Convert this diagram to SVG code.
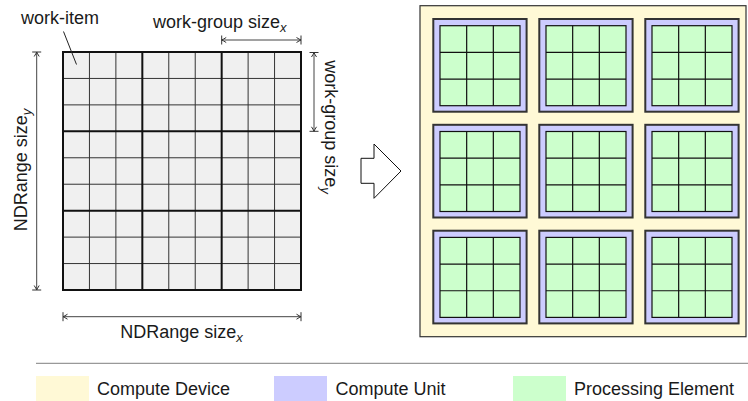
<svg xmlns="http://www.w3.org/2000/svg" xmlns:xlink="http://www.w3.org/1999/xlink" width="748" height="401" viewBox="0 0 748 401">
  <style>
    text { font-family: "Liberation Sans", Arial, sans-serif; font-size: 18px; fill: #1a1a1a; }
    .sub { font-size: 13px; font-style: italic; }
    .thin { stroke: #333; stroke-width: 1; fill: none; }
    .thick { stroke: #111; stroke-width: 2; fill: none; }
    .dim { stroke: #444; stroke-width: 1; fill: none; marker-start: url(#tip); marker-end: url(#tip); }
    .pe { fill: #ccffcc; stroke: #111; stroke-width: 1.2; }
    .cu { fill: #ccccff; stroke: #333; stroke-width: 2; }
  </style>
  <defs>
    <!-- dimension-line end: bar plus small arrowhead -->
    <marker id="tip" markerUnits="userSpaceOnUse" markerWidth="12" markerHeight="12" viewBox="-6 -6 12 12" refX="0" refY="0" orient="auto-start-reverse" overflow="visible">
      <path d="M0 -4.5 V4.5 M-4.5 -2.5 Q-1.5 -0.6 0 0 Q-1.5 0.6 -4.5 2.5" fill="none" stroke="#333" stroke-width="1"/>
    </marker>
    <!-- compute unit with 3x3 processing elements -->
    <g id="cuShape">
      <rect class="cu" x="0" y="0" width="93.3" height="92.7"/>
      <rect class="pe" x="6.7" y="6.7" width="80" height="80"/>
      <path d="M33.37 6.7 V86.7 M60.03 6.7 V86.7 M6.7 33.37 H86.7 M6.7 60.03 H86.7" stroke="#111" stroke-width="1.2" fill="none"/>
    </g>
  </defs>

  <rect width="748" height="401" fill="#ffffff"/>

  <!-- NDRange grid of work-items -->
  <g id="ndrange">
    <rect x="63" y="52" width="238" height="238" fill="#f0f0f0"/>
    <path class="thin" d="M89.44 52 V290 M115.89 52 V290 M168.78 52 V290 M195.22 52 V290 M248.11 52 V290 M274.56 52 V290
      M63 78.44 H301 M63 104.89 H301 M63 157.78 H301 M63 184.22 H301 M63 237.11 H301 M63 263.56 H301"/>
    <path class="thick" d="M142.33 52 V290 M221.67 52 V290 M63 131.33 H301 M63 210.67 H301"/>
    <rect class="thick" x="63" y="52" width="238" height="238"/>
  </g>

  <!-- labels on the grid -->
  <g id="work-item-label">
    <text x="21" y="24">work-item</text>
    <line x1="63.5" y1="31.5" x2="76.5" y2="64.5" stroke="#222" stroke-width="1"/>
  </g>
  <g id="wg-x-label">
    <text x="153" y="28.3">work-group size<tspan class="sub" dy="4">x</tspan></text>
  </g>
  <g id="nd-y-label">
    <text transform="translate(27,170) rotate(-90)" text-anchor="middle">NDRange size<tspan class="sub" dy="4">y</tspan></text>
  </g>
  <g id="wg-y-label">
    <text transform="translate(325,127) rotate(90)" text-anchor="middle">work-group size<tspan class="sub" dy="4">y</tspan></text>
  </g>
  <g id="nd-x-label">
    <text x="181.5" y="337.5" text-anchor="middle">NDRange size<tspan class="sub" dy="4">x</tspan></text>
  </g>

  <!-- connectors: dimension lines and mapping arrow -->
  <g id="connectors">
    <line class="dim" x1="221.7" y1="40" x2="301" y2="40"/>
    <line class="dim" x1="36.7" y1="52" x2="36.7" y2="290"/>
    <line class="dim" x1="314" y1="52.5" x2="314" y2="131.3"/>
    <line class="dim" x1="63" y1="316.7" x2="301" y2="316.7"/>
    <path d="M361 158.3 H374 V144 L401 171 L374 198.3 V183.3 H361 Z" fill="#ffffff" stroke="#111" stroke-width="1"/>
  </g>

  <!-- compute device -->
  <g id="compute-device">
    <rect x="420" y="5.7" width="326" height="331" fill="#fff9d6" stroke="#333" stroke-width="1.2"/>
  </g>
  <g id="cu-1"><use xlink:href="#cuShape" transform="translate(433.3,19)"/></g>
  <g id="cu-2"><use xlink:href="#cuShape" transform="translate(539.3,19)"/></g>
  <g id="cu-3"><use xlink:href="#cuShape" transform="translate(645.3,19)"/></g>
  <g id="cu-4"><use xlink:href="#cuShape" transform="translate(433.3,124.8)"/></g>
  <g id="cu-5"><use xlink:href="#cuShape" transform="translate(539.3,124.8)"/></g>
  <g id="cu-6"><use xlink:href="#cuShape" transform="translate(645.3,124.8)"/></g>
  <g id="cu-7"><use xlink:href="#cuShape" transform="translate(433.3,230.7)"/></g>
  <g id="cu-8"><use xlink:href="#cuShape" transform="translate(539.3,230.7)"/></g>
  <g id="cu-9"><use xlink:href="#cuShape" transform="translate(645.3,230.7)"/></g>

  <!-- legend -->
  <g id="legend">
    <line x1="36" y1="363.3" x2="748" y2="363.3" stroke="#999" stroke-width="1.2"/>
    <rect x="36" y="376" width="53" height="25" fill="#fff9d6"/>
    <text x="97" y="395">Compute Device</text>
    <rect x="274" y="376" width="53" height="25" fill="#ccccff"/>
    <text x="335.5" y="395">Compute Unit</text>
    <rect x="513" y="376" width="53" height="25" fill="#ccffcc"/>
    <text x="574" y="395">Processing Element</text>
  </g>
</svg>
